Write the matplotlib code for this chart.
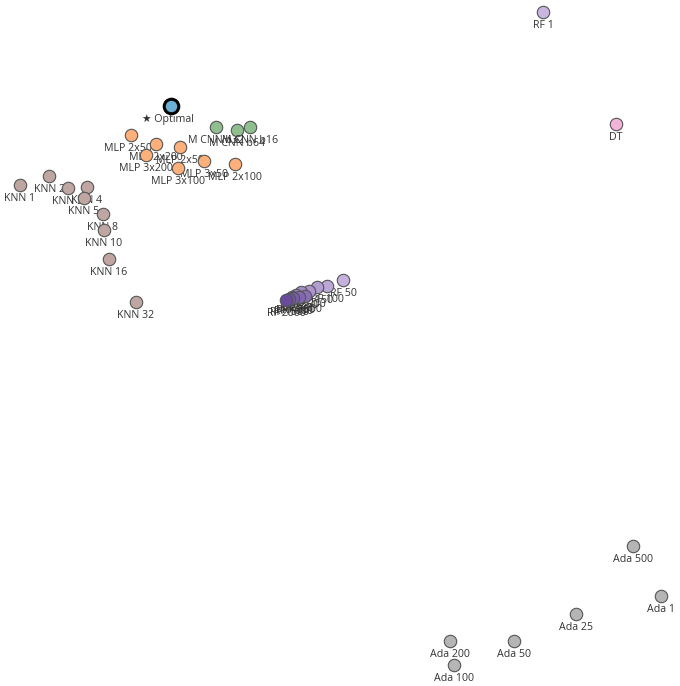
import numpy as np
import matplotlib.pyplot as plt
from matplotlib.colors import LinearSegmentedColormap

# 2D embedding coordinates of each model (x right, y down)
knn_names = ["KNN 1", "KNN 2", "KNN 3", "KNN 4", "KNN 5", "KNN 8", "KNN 10", "KNN 16", "KNN 32"]
knn_x = [20, 49, 68, 87, 84, 103, 104, 109, 136]
knn_y = [185, 176, 188, 187, 198, 214, 230, 259, 302]

mlp_names = ["MLP 2x500", "MLP 2x200", "MLP 3x200", "MLP 2x50", "MLP 3x50", "MLP 3x100", "MLP 2x100"]
mlp_x = [131, 156, 146, 180, 204, 178, 235]
mlp_y = [135, 144, 155, 147, 161, 168, 164]

cnn_names = ["M CNN b32", "M CNN b64", "M CNN b16"]
cnn_x = [216, 237, 250]
cnn_y = [127, 130, 127]

rf_names = ["RF 1", "RF 50", "RF 100", "RF 150", "RF 200", "RF 250", "RF 300", "RF 400",
            "RF 500", "RF 750", "RF 1000", "RF 1500", "RF 2000"]
rf_x = [543, 343, 327, 317, 309, 301, 296, 292, 305, 299, 293, 289, 286]
rf_y = [12, 280, 286, 287, 291, 292, 295, 297, 296, 297, 298, 299, 300]

dt_names = ["DT"]
dt_x = [616]
dt_y = [124]

ada_names = ["Ada 1", "Ada 25", "Ada 50", "Ada 100", "Ada 200", "Ada 500"]
ada_x = [661, 576, 514, 454, 450, 633]
ada_y = [596, 614, 641, 665, 641, 546]

opt_x, opt_y = 171, 106

fig = plt.figure(figsize=(6.8, 6.86), dpi=100)
ax = fig.add_axes([0, 0, 1, 1])
ax.set_xlim(0, 680)
ax.set_ylim(686, 0)
ax.axis("off")

def group(names, xs, ys, colors, z=2):
    for i, (n, x, y) in enumerate(zip(names, xs, ys)):
        c = colors[i] if isinstance(colors, list) else colors
        ax.scatter(x, y, s=80, color=c, edgecolor="#555555", linewidth=0.8, zorder=z + i * 0.01)
        ax.annotate(n, (x, y), xytext=(0, -6), textcoords="offset points",
                    ha="center", va="top", fontsize=7.7, color="#333333",
                    family="Open Sans", zorder=z + i * 0.01 + 0.005)

group(knn_names, knn_x, knn_y, "#bfa6a2")
group(mlp_names, mlp_x, mlp_y, "#fdb07a")
group(cnn_names, cnn_x, cnn_y, "#8fbf8f")
group(dt_names, dt_x, dt_y, "#f0b4d8")
group(ada_names, ada_x, ada_y, "#b5b5b5")

cm = LinearSegmentedColormap.from_list("rf", ["#c8b6e0", "#6a4a9e"])
rf_cols = [cm(0.0)] + [cm(v) for v in np.linspace(0.05, 1.0, len(rf_names) - 1)]
group(rf_names, rf_x, rf_y, rf_cols)

ax.scatter(opt_x, opt_y, s=110, color="#6baed6", edgecolor="black", linewidth=2.2, zorder=5)
ax.annotate("★ Optimal", (opt_x, opt_y), xytext=(-2, -6), textcoords="offset points",
            ha="center", va="top", fontsize=7.7, color="#333333",
            family=["Open Sans", "DejaVu Sans"], zorder=5)

fig.savefig("out.png", dpi=100)
